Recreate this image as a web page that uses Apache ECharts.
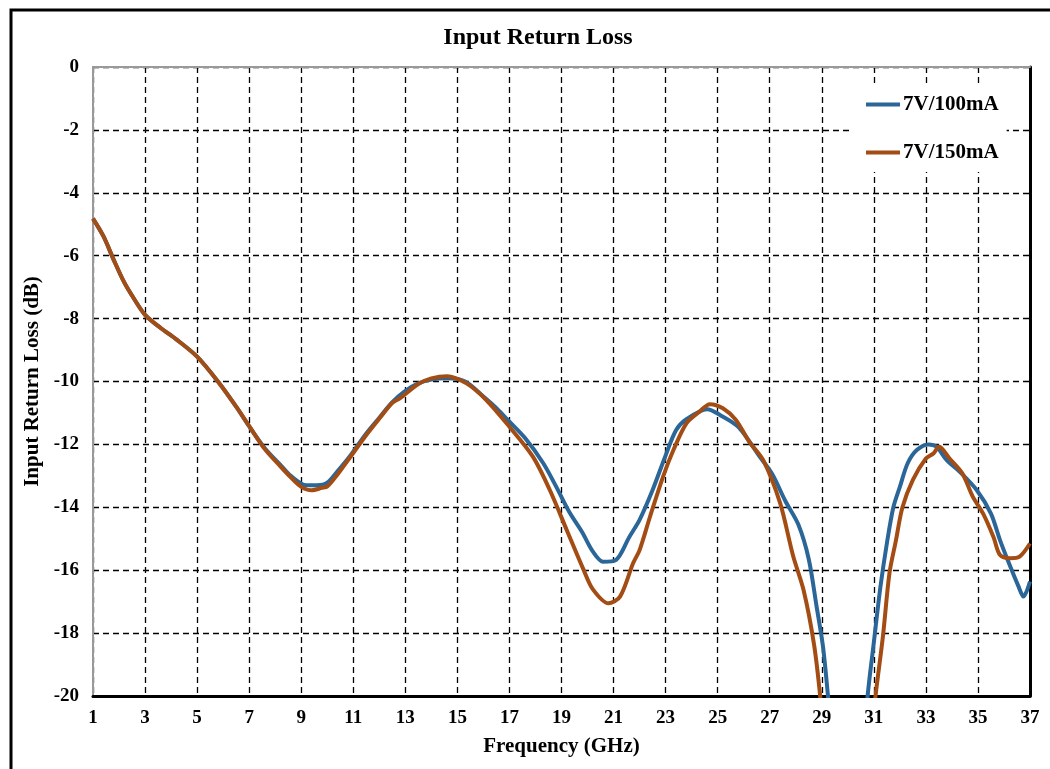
<!DOCTYPE html>
<html>
<head>
<meta charset="utf-8">
<title>Input Return Loss</title>
<script src="https://cdn.jsdelivr.net/npm/echarts@6/dist/echarts.min.js"></script>
<style>
html, body { margin: 0; padding: 0; background: #fff; }
#box { width: 1050px; height: 769px; }
</style>
</head>
<body>
<div id="box"></div>
<script>
var seriesNames = ["7V/100mA", "7V/150mA"];

// 7V/100mA
var freq100 = [1.0, 1.4, 1.8, 2.2, 2.6, 3.0, 3.6, 4.2, 5.0, 5.8, 6.5, 7.0, 7.6, 8.2, 8.6, 9.2, 9.6, 10.0, 10.4, 10.8,
	11.5, 12.0, 12.5, 13.0, 13.5, 14.0, 14.6, 15.3, 16.0, 16.5, 17.0, 17.6, 18.3, 18.8, 19.3, 19.8, 20.2, 20.6, 21.1, 21.6,
	22.0, 22.5, 23.0, 23.4, 23.8, 24.6, 25.1, 25.8, 26.6, 27.1, 27.6, 28.1, 28.5, 28.8, 29.05, 29.25, 29.7, 30.2, 30.75, 31.0,
	31.25, 31.5, 31.75, 32.0, 32.3, 32.65, 33.1, 33.4, 33.8, 34.3, 34.95, 35.5, 35.85, 36.25, 36.55, 36.75, 37.0];
var loss100 = [-4.82, -5.38, -6.14, -6.85, -7.4, -7.88, -8.3, -8.66, -9.21, -10.0, -10.8, -11.42, -12.12, -12.65, -13.0, -13.3, -13.3, -13.22, -12.85, -12.45,
	-11.65, -11.15, -10.66, -10.3, -10.06, -9.94, -9.9, -10.0, -10.48, -10.85, -11.28, -11.8, -12.6, -13.35, -14.15, -14.8, -15.4, -15.73, -15.67, -14.95,
	-14.4, -13.45, -12.35, -11.55, -11.2, -10.88, -11.07, -11.45, -12.37, -12.95, -13.8, -14.55, -15.65, -17.15, -18.45, -20.1, -24, -26, -20.1, -18.3,
	-16.55, -15.15, -14.0, -13.35, -12.6, -12.18, -12.0, -12.07, -12.5, -12.87, -13.45, -14.2, -15.05, -15.9, -16.5, -16.84, -16.36];

// 7V/150mA
var freq150 = [1.0, 1.4, 1.8, 2.2, 2.6, 3.0, 3.6, 4.2, 5.0, 5.8, 6.5, 7.0, 7.6, 8.2, 8.6, 9.0, 9.4, 9.8, 10.0, 10.4, 10.8,
	11.5, 12.0, 12.5, 12.8, 13.5, 14.0, 14.6, 15.35, 16.1, 17.0, 17.9, 18.55, 19.2, 19.85, 20.2, 20.8, 21.25, 21.75,
	22.0, 22.4, 22.9, 23.3, 23.8, 24.3, 24.7, 25.2, 25.7, 26.2, 26.75, 27.4, 27.9, 28.3, 28.7, 28.95, 29.5, 30.3, 31.05,
	31.35, 31.6, 31.85, 32.1, 32.5, 33.0, 33.3, 33.5, 33.9, 34.4, 34.8, 35.2, 35.6, 35.85, 36.25, 36.6, 37.0];
var loss150 = [-4.82, -5.38, -6.14, -6.85, -7.4, -7.88, -8.3, -8.66, -9.21, -10.0, -10.8, -11.42, -12.15, -12.7, -13.05, -13.35, -13.46, -13.38, -13.34, -12.95, -12.5,
	-11.7, -11.18, -10.68, -10.53, -10.08, -9.9, -9.83, -10.06, -10.58, -11.44, -12.39, -13.45, -14.72, -15.99, -16.6, -17.05, -16.84, -15.78,
	-15.36, -14.3, -13.03, -12.18, -11.33, -10.96, -10.72, -10.85, -11.22, -11.9, -12.5, -13.87, -15.55, -16.63, -18.35, -20.1, -25, -26, -20.1,
	-18.1, -16.1, -15.05, -14.0, -13.13, -12.45, -12.28, -12.07, -12.44, -12.92, -13.66, -14.2, -14.95, -15.52, -15.62, -15.57, -15.15];

function pairs(xs, ys) {
	var out = [];
	for (var i = 0; i < xs.length; i++) {
		out.push([xs[i], ys[i]]);
	}
	return out;
}

var font = "'Liberation Serif', 'Times New Roman', serif";
var myChart = echarts.init(document.getElementById("box"));

var gridLine = {
	show: true,
	lineStyle: { color: '#000', width: 1.3, type: [6, 4] }
};

var option = {
	animation: false,
	backgroundColor: '#fff',
	textStyle: { fontFamily: font },
	graphic: [{
		type: 'rect',
		shape: { x: 11, y: 10, width: 1100, height: 800 },
		style: { fill: 'none', stroke: '#000', lineWidth: 3 },
		silent: true
	}, {
		type: 'text',
		x: 538,
		y: 38,
		style: {
			text: 'Input Return Loss',
			font: "bold 24px 'Liberation Serif', serif",
			fill: '#000',
			textAlign: 'center',
			textVerticalAlign: 'middle'
		}
	}],
	grid: {
		left: 93,
		right: 20,
		top: 67,
		bottom: 73
	},
	legend: {
		orient: 'vertical',
		left: 852,
		top: 85,
		padding: [9, 8, 9, 14],
		backgroundColor: '#fff',
		itemGap: 27,
		itemWidth: 34,
		itemHeight: 4,
		icon: 'rect',
		data: seriesNames,
		textStyle: { fontFamily: font, fontWeight: 'bold', fontSize: 21, color: '#000', padding: [0, 0, 0, -2] }
	},
	xAxis: [{
		type: 'value',
		min: 1,
		max: 37,
		interval: 2,
		name: 'Frequency (GHz)',
		nameLocation: 'middle',
		nameGap: 40,
		nameTextStyle: { fontFamily: font, fontWeight: 'bold', fontSize: 21, color: '#000' },
		axisLine: { show: true, onZero: false, lineStyle: { color: '#000', width: 3 } },
		axisTick: { show: false },
		axisLabel: { fontFamily: font, fontWeight: 'bold', fontSize: 19, color: '#000', margin: 13 },
		splitLine: gridLine
	}, {
		type: 'value',
		position: 'top',
		min: 1,
		max: 37,
		interval: 2,
		axisLine: { show: true, onZero: false, lineStyle: { color: '#999', width: 2 } },
		axisTick: { show: false },
		axisLabel: { show: false },
		splitLine: { show: false }
	}],
	yAxis: [{
		type: 'value',
		min: -20,
		max: 0,
		interval: 2,
		name: 'Input Return Loss (dB)',
		nameLocation: 'middle',
		nameGap: 42,
		nameTextStyle: { fontFamily: font, fontWeight: 'bold', fontSize: 21, color: '#000' },
		axisLine: { show: true, onZero: false, lineStyle: { color: '#999', width: 2 } },
		axisTick: { show: false },
		axisLabel: { fontFamily: font, fontWeight: 'bold', fontSize: 19, color: '#000', margin: 14 },
		splitLine: gridLine
	}, {
		type: 'value',
		position: 'right',
		min: -20,
		max: 0,
		interval: 2,
		axisLine: { show: true, onZero: false, lineStyle: { color: '#000', width: 3 } },
		axisTick: { show: false },
		axisLabel: { show: false },
		splitLine: { show: false }
	}],
	series: [{
		name: seriesNames[0],
		type: 'line',
		data: pairs(freq100, loss100),
		smooth: 0.3,
		showSymbol: false,
		clip: true,
		color: '#2B6698',
		lineStyle: { width: 4, color: '#2B6698' },
		z: 3
	}, {
		name: seriesNames[1],
		type: 'line',
		data: pairs(freq150, loss150),
		smooth: 0.3,
		showSymbol: false,
		clip: true,
		color: '#A34D14',
		lineStyle: { width: 4, color: '#A34D14' },
		z: 4
	}]
};

myChart.clear();
myChart.setOption(option);
</script>
</body>
</html>
